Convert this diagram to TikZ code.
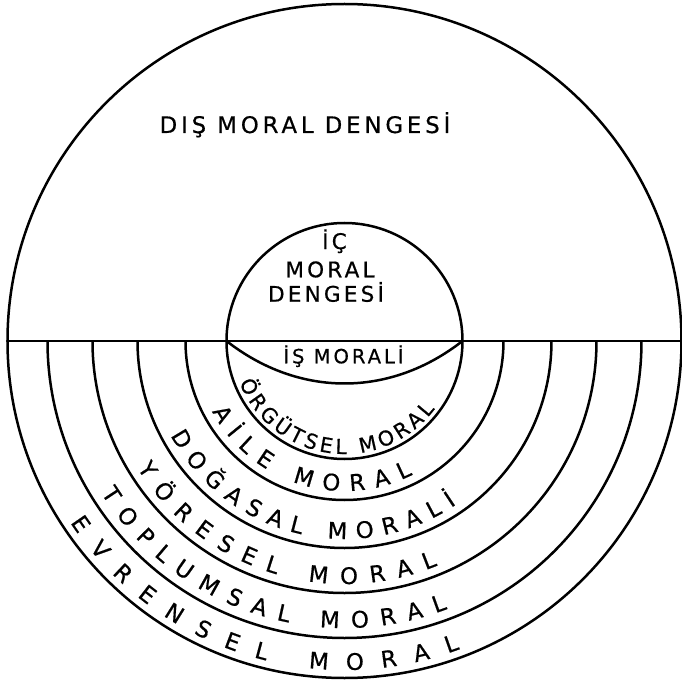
\documentclass[tikz,border=0pt]{standalone}
\usepackage{fontspec}
\setmainfont{DejaVu Sans}
\usetikzlibrary{decorations.text}

\newfontfamily\genisfont[LetterSpace=17, FakeBold=0.6]{DejaVu Sans}
\newfontfamily\acikfont[LetterSpace=15, FakeBold=0.6]{DejaVu Sans}
\newfontfamily\halkafont[FakeBold=0.6]{DejaVu Sans}

\begin{document}
\begin{tikzpicture}[x=1pt, y=1pt,
  cizgi/.style={line width=2.5pt},
  yazi/.style={inner sep=0pt, anchor=base, font=\acikfont\fontsize{#1}{#1}\selectfont},
  halkayazi/.style 2 args={decorate, decoration={text along path, text align=fit to path,
    text={|\halkafont\fontsize{#1}{#1}\selectfont|#2}}}]
  \useasboundingbox (-344.5,-342) rectangle (336.5,341);

  % outer circle and the dividing line
  \draw[cizgi] (0,0) circle[radius=337];
  \coordinate (solDis) at (-337,0);
  \coordinate (sagDis) at (337,0);
  \draw[line width=2.8pt] (solDis) -- (sagDis);

  % inner circle with the lens under the line
  \draw[cizgi] (0,0) circle[radius=118];
  \coordinate (solIc) at (-118,0);
  \coordinate (sagIc) at (118,0);
  \draw[cizgi] (solIc) to[bend right=38] (sagIc);

  % half rings
  \foreach \r in {159,207,252,297}
    \draw[cizgi] (-\r,0) arc[start angle=180, end angle=360, radius=\r];

  % upper labels
  \node[yazi=22.8, font=\genisfont\fontsize{22.8}{22.8}\selectfont] (dis) at (-39.5,208) {DIŞ MORAL DENGESİ};
  \node[yazi=21.5] (ic) at (-10,92) {İÇ};
  \node[yazi=21.5] (icmoral) at (-14.5,63.7) {MORAL};
  \node[yazi=21.5] (icdenge) at (-18.5,39.3) {DENGESİ};
  \node[yazi=19.6] (is) at (-1,-22.3) {İŞ MORALİ};

  % ring texts
  \path[halkayazi={20.5}{ÖRGÜTSEL MORAL}] (201.5:113) arc[start angle=201.5, end angle=323, radius=113];
  \path[halkayazi={22.8}{AİLE MORAL}] (208:150) arc[start angle=208, end angle=297, radius=150];
  \path[halkayazi={22.8}{DOĞASAL MORALİ}] (208.5:198) arc[start angle=208.5, end angle=304.5, radius=198];
  \path[halkayazi={22.8}{YÖRESEL MORAL}] (211.5:243) arc[start angle=211.5, end angle=292.5, radius=243];
  \path[halkayazi={22.8}{TOPLUMSAL MORAL}] (212:287) arc[start angle=212, end angle=291, radius=287];
  \path[halkayazi={22.8}{EVRENSEL MORAL}] (213.5:329) arc[start angle=213.5, end angle=290.5, radius=329];
\end{tikzpicture}
\end{document}
